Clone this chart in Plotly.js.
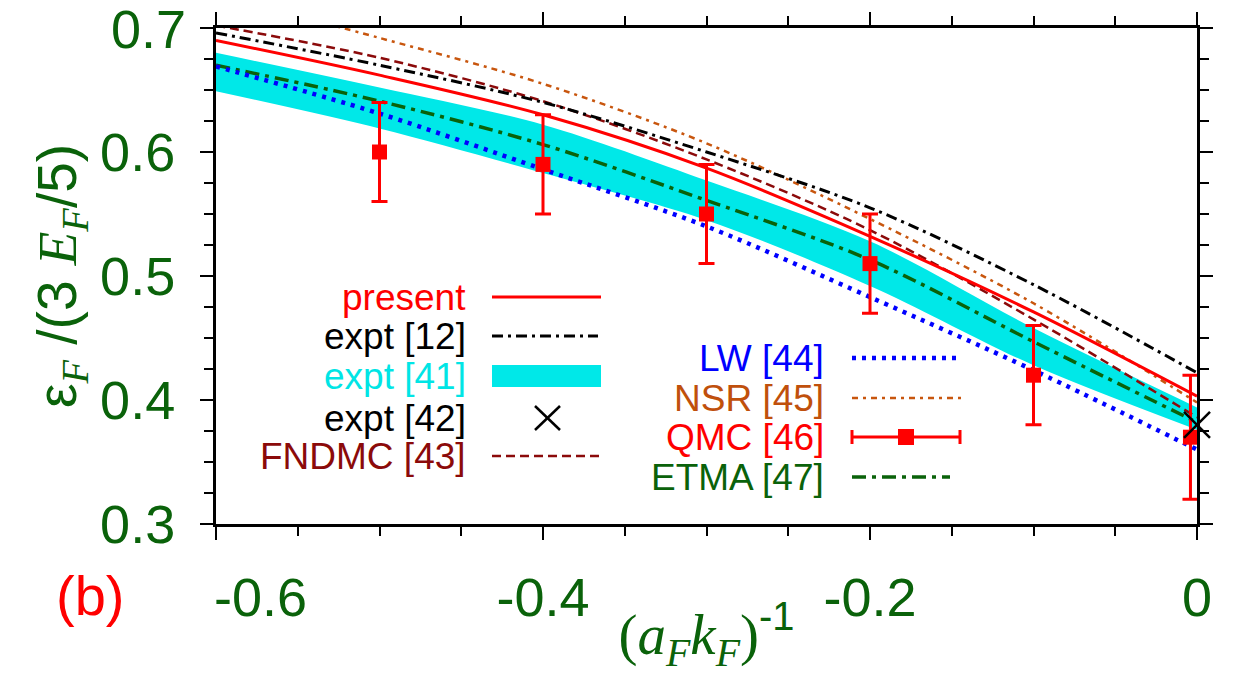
<!DOCTYPE html>
<html>
<head>
<meta charset="utf-8">
<script src="https://cdn.plot.ly/plotly-3.0.1.min.js"></script>
<style>
  html, body { margin: 0; padding: 0; background: #ffffff; }
  #chart { width: 1259px; height: 675px; }
</style>
</head>
<body>
<div id="chart"></div>
<script>
// inverse coupling (a_F k_F)^-1 at which the curves are sampled
const xGrid = [-0.6, -0.5, -0.4, -0.3, -0.2, -0.1, 0];

// ground-state energy ratio for each calculation / experiment
const present = [0.690, 0.662, 0.630, 0.587, 0.532, 0.471, 0.403];
const expt12  = [0.696, 0.670, 0.640, 0.600, 0.555, 0.493, 0.422];
const fndmc43 = [0.702, 0.676, 0.641, 0.594, 0.537, 0.465, 0.386];
const nsr45   = [0.727, 0.692, 0.655, 0.607, 0.546, 0.478, 0.398];
const lw44    = [0.669, 0.631, 0.586, 0.540, 0.483, 0.424, 0.360];
const etma47  = [0.670, 0.641, 0.606, 0.561, 0.513, 0.447, 0.382];

// experimental band [41]
const band41Upper = [0.680, 0.652, 0.622, 0.577, 0.528, 0.458, 0.394];
const band41Lower = [0.649, 0.619, 0.583, 0.545, 0.492, 0.428, 0.376];

// unitary-limit experiment [42]
const expt42X = [0];
const expt42Y = [0.38];

// QMC [46] points with error bars
const qmcX   = [-0.5, -0.4, -0.3, -0.2, -0.1, -0.004];
const qmcY   = [0.60, 0.59, 0.55, 0.51, 0.42, 0.37];
const qmcErr = [0.04, 0.04, 0.04, 0.04, 0.04, 0.05];

// axis ticks; the two corner labels (-0.6 and 0.7) are placed as annotations
const xTickVals = [-0.6, -0.4, -0.2, 0];
const xTickText = ['', '-0.4', '-0.2', '0'];
const xFirstLabel = '-0.6';
const yTickVals = [0.3, 0.4, 0.5, 0.6, 0.7];
const yTickText = ['0.3', '0.4', '0.5', '0.6', ''];
const yTopLabel = '0.7';

// legend entries: [label, colour]
const legendLeft = [
  ['present', '#ff0000'],
  ['expt [12]', '#000000'],
  ['expt [41]', '#00e5e5'],
  ['expt [42]', '#000000'],
  ['FNDMC [43]', '#8b0a0a']
];
const legendRight = [
  ['LW [44]', '#0000ff'],
  ['NSR [45]', '#c0500c'],
  ['QMC [46]', '#ff0000'],
  ['ETMA [47]', '#0a620a']
];

const GREEN = '#0a620a';
const SANS = 'Liberation Sans, Arial, sans-serif';
const SERIF = 'Liberation Serif, Times New Roman, serif';

// plot frame in page pixels
const W = 1259, H = 675;
const L = 216, R = 1197, T = 28, B = 524;
const px = v => (v - L) / (R - L);
const py = v => (B - v) / (B - T);

const lineTrace = (y, color, width, dash) => ({
  x: xGrid, y: y, type: 'scatter', mode: 'lines',
  line: { color: color, width: width, dash: dash, shape: 'spline', smoothing: 0.9 },
  hoverinfo: 'skip', showlegend: false
});

const data = [
  { x: xGrid, y: band41Upper, type: 'scatter', mode: 'lines',
    line: { width: 0, shape: 'spline', smoothing: 0.9 }, hoverinfo: 'skip', showlegend: false },
  { x: xGrid, y: band41Lower, type: 'scatter', mode: 'lines', fill: 'tonexty',
    fillcolor: '#00e8e8', line: { width: 0, shape: 'spline', smoothing: 0.9 },
    hoverinfo: 'skip', showlegend: false },
  lineTrace(nsr45, '#c8560e', 2.5, '6px,5px,3px,5px'),
  lineTrace(fndmc43, '#8b0a0a', 2.5, '9px,5px'),
  lineTrace(expt12, '#000000', 3, '11px,5px,3px,5px'),
  lineTrace(present, '#ff0000', 3, 'solid'),
  lineTrace(etma47, GREEN, 3.5, '14px,6px,4px,6px'),
  lineTrace(lw44, '#0000ff', 4.5, '4px,6px'),
  { x: qmcX, y: qmcY, type: 'scatter', mode: 'markers',
    marker: { symbol: 'square', size: 15, color: '#ff0000' },
    error_y: { type: 'data', array: qmcErr, visible: true, color: '#ff0000', thickness: 3, width: 8 },
    cliponaxis: false, hoverinfo: 'skip', showlegend: false },
  { x: expt42X, y: expt42Y, type: 'scatter', mode: 'markers',
    marker: { symbol: 'x-thin-open', size: 26, color: '#000000', line: { color: '#000000', width: 2.5 } },
    cliponaxis: false, hoverinfo: 'skip', showlegend: false }
];

// legend drawn beside the curves: text on the left, sample on the right
const annotations = [];
const shapes = [];
const leftRows = [297, 336, 376, 418, 456];
const rightRows = [358, 398, 437, 477];
legendLeft.forEach(([label, color], i) => {
  annotations.push({ xref: 'paper', yref: 'paper', x: px(468), y: py(leftRows[i]),
    xanchor: 'right', yanchor: 'middle', showarrow: false, text: label,
    font: { family: SANS, size: 37, color: color } });
});
legendRight.forEach(([label, color], i) => {
  annotations.push({ xref: 'paper', yref: 'paper', x: px(826), y: py(rightRows[i]),
    xanchor: 'right', yanchor: 'middle', showarrow: false, text: label,
    font: { family: SANS, size: 37, color: color } });
});
const seg = (x0, x1, y, color, width, dash) => ({
  type: 'line', xref: 'paper', yref: 'paper', x0: px(x0), x1: px(x1), y0: py(y), y1: py(y),
  line: { color: color, width: width, dash: dash || 'solid' } });
shapes.push(seg(492, 601, leftRows[0], '#ff0000', 3));
shapes.push(seg(492, 598, leftRows[1], '#000000', 3, '11px,5px,3px,5px'));
shapes.push({ type: 'rect', xref: 'paper', yref: 'paper', x0: px(492), x1: px(601),
  y0: py(leftRows[2] - 11), y1: py(leftRows[2] + 11), fillcolor: '#00e8e8', line: { width: 0 } });
shapes.push({ type: 'line', xref: 'paper', yref: 'paper', x0: px(535), x1: px(560),
  y0: py(leftRows[3] - 12), y1: py(leftRows[3] + 12), line: { color: '#000', width: 2.5 } });
shapes.push({ type: 'line', xref: 'paper', yref: 'paper', x0: px(535), x1: px(560),
  y0: py(leftRows[3] + 12), y1: py(leftRows[3] - 12), line: { color: '#000', width: 2.5 } });
shapes.push(seg(492, 601, leftRows[4], '#8b0a0a', 2.5, '9px,5px'));

shapes.push(seg(852, 961, rightRows[0], '#0000ff', 4.5, '4px,6px'));
shapes.push(seg(852, 961, rightRows[1], '#c8560e', 2.5, '6px,5px,3px,5px'));
shapes.push(seg(851, 961, rightRows[2], '#ff0000', 3));
shapes.push({ type: 'line', xref: 'paper', yref: 'paper', x0: px(852), x1: px(852),
  y0: py(rightRows[2] - 7), y1: py(rightRows[2] + 7), line: { color: '#ff0000', width: 3 } });
shapes.push({ type: 'line', xref: 'paper', yref: 'paper', x0: px(960), x1: px(960),
  y0: py(rightRows[2] - 7), y1: py(rightRows[2] + 7), line: { color: '#ff0000', width: 3 } });
shapes.push({ type: 'rect', xref: 'paper', yref: 'paper', x0: px(898), x1: px(914),
  y0: py(rightRows[2] - 8), y1: py(rightRows[2] + 8), fillcolor: '#ff0000', line: { width: 0 } });
shapes.push(seg(852, 950, rightRows[3], GREEN, 3.5, '14px,6px,4px,6px'));

// corner tick labels
annotations.push({ xref: 'x', yref: 'paper', x: xTickVals[0], y: py(597),
  xanchor: 'left', yanchor: 'middle', xshift: -4, showarrow: false, text: xFirstLabel,
  font: { family: SANS, size: 54, color: GREEN } });
annotations.push({ xref: 'paper', yref: 'y', x: px(188), y: yTickVals[4],
  xanchor: 'right', yanchor: 'middle', yshift: -1, showarrow: false, text: yTopLabel,
  font: { family: SANS, size: 54, color: GREEN } });

// panel tag
annotations.push({ xref: 'paper', yref: 'paper', x: px(90), y: py(595),
  xanchor: 'center', yanchor: 'middle', showarrow: false, text: '(b)',
  font: { family: SANS, size: 56, color: '#ff0000' } });

const serif = s => `<span style="font-family:${SERIF}"><i>${s}</i></span>`;

const layout = {
  width: W, height: H,
  margin: { l: L, r: W - R, t: T, b: H - B, pad: 0 },
  paper_bgcolor: '#ffffff', plot_bgcolor: '#ffffff',
  showlegend: false,
  xaxis: {
    range: [-0.6, 0], tickvals: xTickVals, ticktext: xTickText,
    showgrid: false, zeroline: false,
    showline: true, linecolor: '#000', linewidth: 3, mirror: 'allticks',
    ticks: 'outside', ticklen: 13, tickwidth: 2.5, tickcolor: '#000',
    minor: { dtick: 0.05, ticks: 'outside', ticklen: 9, tickwidth: 2, tickcolor: '#000', showgrid: false },
    ticklabelstandoff: 11,
    tickfont: { family: SANS, size: 54, color: GREEN },
    title: { text: '<span style="font-family:' + SERIF + '">(<i>a</i><sub><i>F</i></sub><i>k</i><sub><i>F</i></sub>)</span><sup>-1</sup>',
      font: { family: SANS, size: 57, color: GREEN }, standoff: 0 }
  },
  yaxis: {
    range: [0.3, 0.7], tickvals: yTickVals, ticktext: yTickText,
    showgrid: false, zeroline: false,
    showline: true, linecolor: '#000', linewidth: 3, mirror: 'allticks',
    ticks: 'outside', ticklen: 13, tickwidth: 2.5, tickcolor: '#000',
    minor: { dtick: 0.025, ticks: 'outside', ticklen: 9, tickwidth: 2, tickcolor: '#000', showgrid: false },
    ticklabelstandoff: 14,
    tickfont: { family: SANS, size: 54, color: GREEN },
    title: { text: 'ε<sub>' + serif('F') + '</sub> /(3 ' + serif('E') + '<sub>' + serif('F') + '</sub>/5)',
      font: { family: SANS, size: 55, color: GREEN }, standoff: 6 }
  },
  annotations: annotations,
  shapes: shapes
};

Plotly.newPlot('chart', data, layout, { displayModeBar: false, staticPlot: true });
</script>
</body>
</html>
